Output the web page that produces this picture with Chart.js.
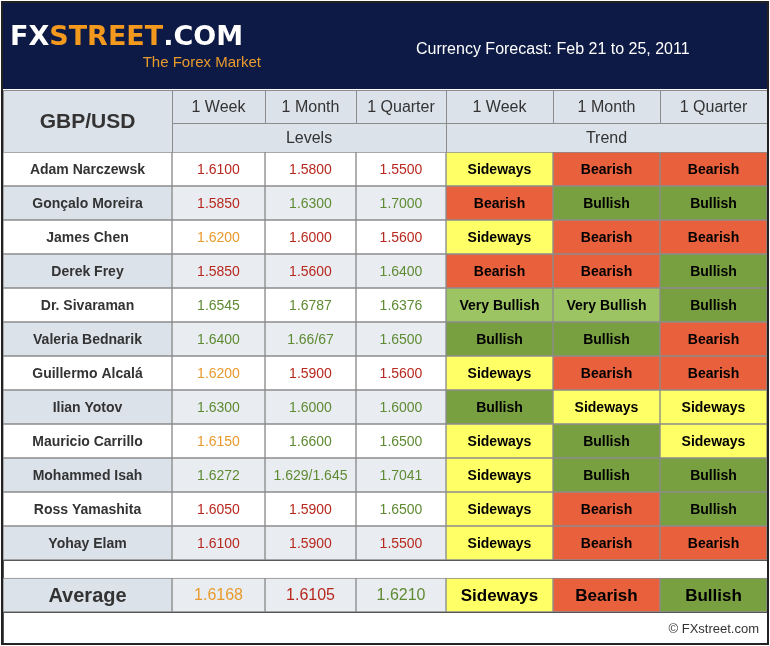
<!DOCTYPE html>
<html><head><meta charset="utf-8">
<script src="https://cdn.jsdelivr.net/npm/chart.js@4"></script>
<style>html,body{margin:0;padding:0;background:#fff}#w{width:770px;height:646px}</style>
</head><body><div id="w"><canvas id="c"></canvas></div>
<script>
const names = ["Adam Narczewsk","Gonçalo Moreira","James Chen","Derek Frey","Dr. Sivaraman","Valeria Bednarik","Guillermo Alcalá","Ilian Yotov","Mauricio Carrillo","Mohammed Isah","Ross Yamashita","Yohay Elam","Average"];
const levelWeek    = ["1.6100","1.5850","1.6200","1.5850","1.6545","1.6400","1.6200","1.6300","1.6150","1.6272","1.6050","1.6100","1.6168"];
const levelMonth   = ["1.5800","1.6300","1.6000","1.5600","1.6787","1.66/67","1.5900","1.6000","1.6600","1.629/1.645","1.5900","1.5900","1.6105"];
const levelQuarter = ["1.5500","1.7000","1.5600","1.6400","1.6376","1.6500","1.5600","1.6000","1.6500","1.7041","1.6500","1.5500","1.6210"];
// level colour class: r = red, o = orange, g = green
const toneWeek    = ["r","r","o","r","g","g","o","g","o","g","r","r","o"];
const toneMonth   = ["r","g","r","r","g","g","r","g","g","g","r","r","r"];
const toneQuarter = ["r","g","r","g","g","g","r","g","g","g","g","r","g"];
const trendWeek    = ["Sideways","Bearish","Sideways","Bearish","Very Bullish","Bullish","Sideways","Bullish","Sideways","Sideways","Sideways","Sideways","Sideways"];
const trendMonth   = ["Bearish","Bullish","Bearish","Bearish","Very Bullish","Bullish","Bearish","Sideways","Bullish","Bullish","Bearish","Bearish","Bearish"];
const trendQuarter = ["Bearish","Bullish","Bearish","Bullish","Bullish","Bearish","Bearish","Sideways","Sideways","Bullish","Bullish","Bearish","Bullish"];
const colHeads = ["1 Week","1 Month","1 Quarter","1 Week","1 Month","1 Quarter"];

// layout
const EDGES = [3,172,265,356,446,553,660,767];
const GAP = 18/34;
const rowY = i => i < 12 ? i + 0.5 : 12 + GAP + 0.5;
const toneCol = {r:"#B8281E", o:"#E89A2C", g:"#5E8A32"};
const trendCol = {"Sideways":"#FFFF66","Bearish":"#E8603C","Bullish":"#78A040","Very Bullish":"#9CC462"};
const rowBg = i => i === 12 ? "#E9EDF2" : (i % 2 ? "#E9EDF2" : "#FFFFFF");
const nameBg = i => i === 12 ? "#DCE2EA" : (i % 2 ? "#DCE2EA" : "#FFFFFF");

function ds(col, texts, bg, fg, bold) {
  return {
    data: texts.map((t, i) => ({x: [EDGES[col], EDGES[col+1]], y: rowY(i)})),
    backgroundColor: texts.map((t, i) => bg(t, i)),
    borderColor: "#8C8C8C", borderWidth: 1, borderSkipped: false,
    grouped: false, categoryPercentage: 1, barPercentage: 1,
    texts, fg, bold
  };
}
const datasets = [
  ds(0, names, (t,i)=>nameBg(i), ()=>"#333", true),
  ds(1, levelWeek, (t,i)=>rowBg(i), i=>toneCol[toneWeek[i]], false),
  ds(2, levelMonth, (t,i)=>rowBg(i), i=>toneCol[toneMonth[i]], false),
  ds(3, levelQuarter, (t,i)=>rowBg(i), i=>toneCol[toneQuarter[i]], false),
  ds(4, trendWeek, t=>trendCol[t], ()=>"#000", true),
  ds(5, trendMonth, t=>trendCol[t], ()=>"#000", true),
  ds(6, trendQuarter, t=>trendCol[t], ()=>"#000", true)
];

const F = "'Liberation Sans', Arial, sans-serif";
const tablePlugin = {
  id: "table",
  beforeDatasetsDraw(chart) {
    const c = chart.ctx;
    c.save();
    c.fillStyle = "#0D1A45"; c.fillRect(3, 3, 764, 86);
    c.font = "bold 27px 'DejaVu Sans', sans-serif"; c.textBaseline = "alphabetic"; c.textAlign = "left";
    c.fillStyle = "#fff"; c.fillText("FX", 10, 45);
    let w = c.measureText("FX").width;
    c.fillStyle = "#F39A1E"; c.fillText("STREET", 10 + w, 45);
    w += c.measureText("STREET").width;
    c.fillStyle = "#fff"; c.fillText(".COM", 10 + w, 45);
    c.font = "15px " + F; c.fillStyle = "#E89A2C"; c.textAlign = "right";
    c.fillText("The Forex Market", 261, 67);
    c.font = "16px " + F; c.fillStyle = "#fff"; c.textAlign = "left";
    c.fillText("Currency Forecast: Feb 21 to 25, 2011", 416, 54);
    c.strokeStyle = "#8C8C8C"; c.lineWidth = 1;
    const cell = (x0, y0, x1, y1, txt, font) => {
      c.fillStyle = "#DCE2EA"; c.fillRect(x0, y0, x1 - x0, y1 - y0);
      c.strokeRect(x0 + .5, y0 + .5, x1 - x0, y1 - y0);
      c.fillStyle = "#333"; c.font = font; c.textAlign = "center"; c.textBaseline = "middle";
      c.fillText(txt, (x0 + x1) / 2, (y0 + y1) / 2 + 1);
    };
    cell(EDGES[0], 90, EDGES[1], 152, "GBP/USD", "bold 21px " + F);
    colHeads.forEach((h, k) => cell(EDGES[k+1], 90, EDGES[k+2], 123, h, "16px " + F));
    cell(EDGES[1], 123, EDGES[4], 152, "Levels", "16px " + F);
    cell(EDGES[4], 123, EDGES[7], 152, "Trend", "16px " + F);
    const ys = chart.scales.y;
    c.strokeStyle = "#555";
    c.strokeRect(3.5, ys.getPixelForValue(12) + .5, 764, ys.getPixelForValue(12 + GAP) - ys.getPixelForValue(12));
    c.strokeRect(3.5, ys.getPixelForValue(13 + GAP) + .5, 764, 644 - ys.getPixelForValue(13 + GAP) - 0.5);
    c.fillStyle = "#333"; c.font = "13px " + F; c.textAlign = "right"; c.textBaseline = "middle";
    c.fillText("© FXstreet.com", 759, 629);
    c.restore();
  },
  afterDatasetsDraw(chart) {
    const c = chart.ctx;
    c.save();
    c.textAlign = "center"; c.textBaseline = "middle";
    chart.data.datasets.forEach((d, k) => {
      chart.getDatasetMeta(k).data.forEach((bar, i) => {
        const avg = i === 12;
        const size = avg ? (k === 0 ? 20 : (k >= 4 ? 17 : 16)) : 14;
        c.font = (d.bold ? "bold " : "") + size + "px " + F;
        c.fillStyle = d.fg(i);
        c.fillText(d.texts[i], (bar.base + bar.x) / 2, bar.y + 1);
      });
    });
    c.strokeStyle = "#222"; c.lineWidth = 2;
    c.strokeRect(2, 2, 766, 642);
    c.restore();
  }
};

new Chart(document.getElementById("c"), {
  type: "bar",
  data: {datasets},
  plugins: [tablePlugin],
  options: {
    indexAxis: "y", responsive: true, maintainAspectRatio: false, animation: false,
    layout: {padding: {top: 152, bottom: 34, left: 0, right: 0}},
    plugins: {legend: {display: false}, tooltip: {enabled: false}},
    scales: {
      x: {type: "linear", min: 0, max: 770, display: false},
      y: {type: "linear", min: 0, max: 13 + GAP, reverse: true, offset: false, display: false}
    }
  }
});
</script></body></html>
